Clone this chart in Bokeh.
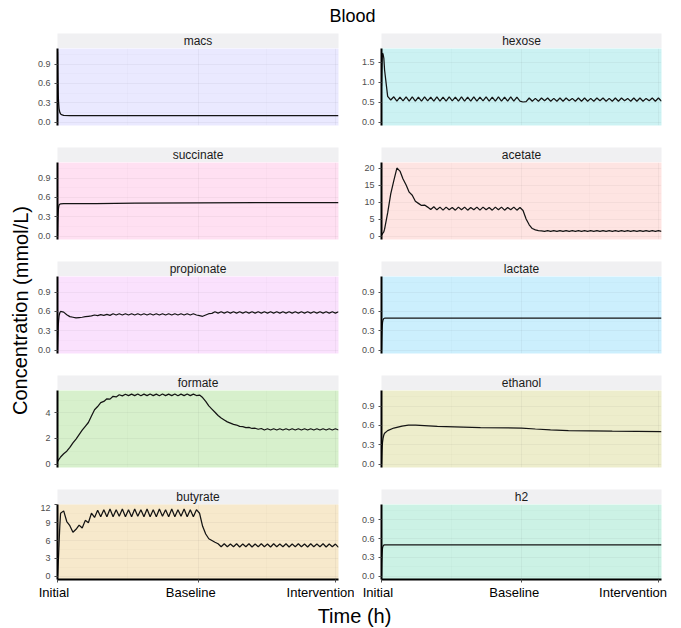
from bokeh.plotting import figure
from bokeh.layouts import row, column
from bokeh.models import Range1d, FixedTicker, Grid, PrintfTickFormatter
from bokeh.embed import file_html
from bokeh.resources import INLINE
from bokeh.core.properties import value

FONT = "Liberation Sans"

# ---------------- data ----------------
# sampling times (h): dense start, then every 12 h
time_grid = [0, 1, 2, 3, 4, 6, 9] + list(range(12, 1093, 12))

macs_t = [0, 1, 2, 3, 4, 6, 9, 12, 18, 24, 48, 546, 560, 1092]
macs = [1.09, 0.80, 0.58, 0.42, 0.32, 0.21, 0.15, 0.125, 0.11, 0.103, 0.10, 0.10, 0.098, 0.098]

succinate_t = [0, 1, 2, 3, 4, 6, 9, 12, 24, 150, 300, 546, 800, 1092]
succinate = [0.0, 0.20, 0.31, 0.39, 0.44, 0.48, 0.495, 0.50, 0.505, 0.505, 0.51, 0.515, 0.52, 0.52]

lactate_t = [0, 1, 2, 3, 4, 6, 9, 12, 24, 1092]
lactate = [0.0, 0.18, 0.30, 0.38, 0.43, 0.47, 0.49, 0.495, 0.495, 0.495]

h2_t = [0, 1, 2, 3, 4, 6, 9, 12, 24, 1092]
h2 = [0.0, 0.20, 0.32, 0.40, 0.45, 0.48, 0.495, 0.50, 0.50, 0.50]

ethanol_t = [0, 1, 2, 3, 4, 6, 9, 12, 24, 48, 80, 105, 133, 218, 386, 546, 600, 659, 729, 900, 1092]
ethanol = [0.0, 0.12, 0.22, 0.29, 0.34, 0.40, 0.45, 0.48, 0.52, 0.56, 0.59, 0.605, 0.605, 0.585,
           0.565, 0.56, 0.545, 0.53, 0.52, 0.51, 0.505]

hexose = [
    0.90, 1.20, 1.45, 1.62, 1.72, 1.70, 1.60,
    1.30, 0.64,
    0.55,
    0.63, 0.52, 0.62, 0.53, 0.63, 0.52, 0.63, 0.52, 0.62, 0.52, 0.63, 0.53, 0.62, 0.52,
    0.63, 0.52, 0.62, 0.52, 0.63, 0.53, 0.62, 0.52, 0.63, 0.52, 0.62, 0.52, 0.63, 0.52,
    0.62, 0.53, 0.63, 0.52, 0.62, 0.52, 0.63, 0.52, 0.62, 0.52, 0.63, 0.52, 0.62, 0.52,
    0.50, 0.51,
    0.60, 0.52, 0.59, 0.52, 0.60, 0.53, 0.60, 0.52, 0.59, 0.52, 0.60, 0.52, 0.60, 0.53,
    0.59, 0.52, 0.60, 0.52, 0.60, 0.52, 0.59, 0.52,
    0.60, 0.53, 0.60, 0.52, 0.59, 0.52, 0.60, 0.52, 0.60, 0.53, 0.59, 0.52, 0.60, 0.52,
    0.60, 0.52, 0.59, 0.53, 0.60, 0.52, 0.60, 0.52,
]

acetate = [
    0.30, 0.35, 0.45, 0.55, 0.70, 0.90, 1.20,
    2.0, 6.8, 12.4, 16.3, 20.0, 19.1, 16.8, 15.0, 12.9, 12.0, 10.2, 9.6, 9.0, 9.1, 8.5,
    7.8, 8.6, 7.7, 8.5, 7.6, 8.5, 7.7, 8.4, 7.6, 8.5,
    7.7, 8.5, 7.6, 8.4, 7.7, 8.5, 7.6, 8.5, 7.7, 8.4,
    7.6, 8.5, 7.7, 8.5, 7.6, 8.4, 7.7, 8.5, 7.6, 8.4,
    7.5, 5.0, 3.3, 2.2, 1.8, 1.6, 1.5,
    1.35, 1.6, 1.35, 1.6, 1.35, 1.6, 1.35, 1.6, 1.35, 1.6,
    1.35, 1.6, 1.35, 1.6, 1.35, 1.6, 1.35, 1.6, 1.35, 1.6,
    1.35, 1.6, 1.35, 1.6, 1.35, 1.6, 1.35, 1.6, 1.35, 1.6,
    1.35, 1.6, 1.35, 1.6, 1.35, 1.6, 1.35, 1.6, 1.35,
]

butyrate = [
    0.0, 0.7, 1.5, 2.4, 3.3, 5.5, 8.5,
    10.6, 11.0, 9.2, 8.5, 7.4, 7.9, 8.6, 8.1, 9.4, 9.0,
    10.6, 9.9, 11.1, 10.0, 11.2, 10.0, 11.3, 10.0, 11.2, 10.1,
    11.3, 10.0, 11.2, 10.0, 11.3, 10.1, 11.2, 10.0, 11.3, 10.0,
    11.2, 10.0, 11.3, 10.1, 11.2, 10.0, 11.3, 10.0, 11.2, 10.1,
    11.3, 10.0, 11.2, 10.0, 11.2,
    10.6, 8.4, 7.1, 6.3, 6.0, 5.7, 5.45,
    4.95, 5.45, 4.95, 5.40, 4.95, 5.45, 4.90, 5.40, 4.95, 5.45,
    4.90, 5.40, 4.95, 5.45, 4.95, 5.40, 4.90, 5.45, 4.95, 5.40,
    4.95, 5.45, 4.90, 5.40, 4.95, 5.45, 4.95, 5.40, 4.90, 5.45,
    4.95, 5.40, 4.95, 5.45, 4.90, 5.40, 4.95, 5.40, 4.85,
]

formate = [
    0.20, 0.22, 0.25, 0.28, 0.32, 0.38, 0.46,
    0.55, 0.80, 1.00, 1.30, 1.65, 1.95, 2.30, 2.65, 2.95, 3.25, 3.75, 4.25, 4.50, 4.80,
    4.90, 5.10, 5.08, 5.30, 5.25, 5.42, 5.33, 5.46,
    5.35, 5.47, 5.35, 5.48, 5.34, 5.47, 5.35, 5.48, 5.35, 5.47,
    5.34, 5.48, 5.35, 5.47, 5.35, 5.48, 5.34, 5.47, 5.35, 5.48,
    5.35, 5.47, 5.36,
    5.40, 5.20, 4.90, 4.55, 4.30, 4.05, 3.80, 3.60, 3.45, 3.30, 3.20, 3.10, 3.05, 2.95,
    2.92, 2.85, 2.86, 2.78, 2.80, 2.72, 2.78,
    2.66, 2.76, 2.66, 2.76, 2.66, 2.76, 2.66, 2.76, 2.66, 2.76, 2.66, 2.76,
    2.66, 2.76, 2.66, 2.76, 2.66, 2.76, 2.66, 2.76, 2.66, 2.76, 2.66, 2.76, 2.66,
]

propionate = [
    0.00, 0.15, 0.28, 0.38, 0.45, 0.53, 0.58,
    0.60, 0.59, 0.55, 0.52, 0.51, 0.50, 0.505, 0.51, 0.52, 0.525,
    0.53, 0.545, 0.535, 0.55, 0.54, 0.555, 0.54,
    0.565, 0.545, 0.565, 0.545, 0.565, 0.545, 0.565, 0.545, 0.565, 0.545, 0.565, 0.545,
    0.565, 0.545, 0.565, 0.545, 0.565, 0.545, 0.565, 0.545, 0.565, 0.545, 0.565, 0.545,
    0.565, 0.545, 0.565, 0.545,
    0.535, 0.525, 0.545, 0.565, 0.57,
    0.595, 0.575, 0.595, 0.575, 0.595, 0.575, 0.595, 0.575, 0.595, 0.575,
    0.595, 0.575, 0.595, 0.575, 0.595, 0.575, 0.595, 0.575, 0.595, 0.575,
    0.595, 0.575, 0.595, 0.575, 0.595, 0.575, 0.595, 0.575, 0.595, 0.575,
    0.595, 0.575, 0.595, 0.575, 0.595, 0.575, 0.595, 0.575, 0.595, 0.575,
    0.595,
]

panels = ["macs", "hexose", "succinate", "acetate", "propionate",
          "lactate", "formate", "ethanol", "butyrate", "h2"]

series_t = {"macs": macs_t, "hexose": time_grid, "succinate": succinate_t, "acetate": time_grid,
            "propionate": time_grid, "lactate": lactate_t, "formate": time_grid,
            "ethanol": ethanol_t, "butyrate": time_grid, "h2": h2_t}
series_v = {"macs": macs, "hexose": hexose, "succinate": succinate, "acetate": acetate,
            "propionate": propionate, "lactate": lactate, "formate": formate,
            "ethanol": ethanol, "butyrate": butyrate, "h2": h2}

for k in panels:
    if len(series_t[k]) != len(series_v[k]):
        raise ValueError(f"{k}: {len(series_t[k])} times vs {len(series_v[k])} values")

panel_colors = {"acetate": "#F8766D", "butyrate": "#D89000", "ethanol": "#A3A500",
                "formate": "#39B600", "h2": "#00BF7D", "hexose": "#00BFC4",
                "lactate": "#00B0F6", "macs": "#9590FF", "propionate": "#E76BF3",
                "succinate": "#FF62BC"}

y_limits = {"macs": (0, 1.09), "hexose": (0, 1.75), "succinate": (0, 1.09), "acetate": (0, 20.6),
            "propionate": (0, 1.09), "lactate": (0, 1.09), "formate": (0, 5.48),
            "ethanol": (0, 1.09), "butyrate": (0, 11.5), "h2": (0, 1.09)}

small_ticks = [0, 0.3, 0.6, 0.9]
y_ticks = {"macs": small_ticks, "hexose": [0, 0.5, 1.0, 1.5], "succinate": small_ticks,
           "acetate": [0, 5, 10, 15, 20], "propionate": small_ticks, "lactate": small_ticks,
           "formate": [0, 2, 4], "ethanol": small_ticks, "butyrate": [0, 3, 6, 9, 12],
           "h2": small_ticks}
y_fmt = {"macs": "%.1f", "hexose": "%.1f", "succinate": "%.1f", "acetate": "%d",
         "propionate": "%.1f", "lactate": "%.1f", "formate": "%d", "ethanol": "%.1f",
         "butyrate": "%d", "h2": "%.1f"}

x_end = 1092
x_ticks = [0, 546, 1080]
x_minor_ticks = [273, 813]
x_tick_labels = ["Initial", "Baseline", "Intervention"]
# trailing no-break spaces per column: labels sit a little left of their ticks
label_shift = {0: [2, 4, 0], 1: [2, 4, 4]}

title_text = "Blood"
ylab_text = "Concentration (mmol/L)"
xlab_text = "Time (h)"

# ---------------- layout ----------------
W_YLAB = 34
GEOM = {0: (23, 16), 1: (27, 20)}   # (border left, border right)
FRAME_W = {0: 281, 1: 280}
FRAME_H = 77
STRIP_H = 15
GAP = 22
BOTTOM_AXIS = 21


def col_width(c):
    bl, br = GEOM[c]
    return bl + FRAME_W[c] + br


def blank(width, height, xr, yr):
    f = figure(width=width, height=height, x_range=Range1d(*xr), y_range=Range1d(*yr),
               x_axis_location=None, y_axis_location=None, toolbar_location=None,
               output_backend="svg", min_border=0, title=None)
    f.grid.visible = False
    f.outline_line_color = None
    f.border_fill_color = "white"
    f.background_fill_color = "white"
    return f


def make_strip(name, c):
    bl, br = GEOM[c]
    s = figure(width=col_width(c), height=STRIP_H, x_range=Range1d(0, 1), y_range=Range1d(0, 1),
               x_axis_location=None, y_axis_location=None, toolbar_location=None,
               output_backend="svg", title=None,
               min_border_left=bl, min_border_right=br, min_border_top=0, min_border_bottom=0)
    s.grid.visible = False
    s.outline_line_color = None
    s.border_fill_color = "white"
    s.background_fill_color = "#f0f0f2"
    s.text(x=[0.5], y=[0.5], text=[name], text_align="center", text_baseline="middle",
           text_font=value(FONT), text_font_size="12px", text_color="#1a1a1a")
    return s


def make_panel(name, c, bottom):
    bl, br = GEOM[c]
    bb = BOTTOM_AXIS if bottom else GAP
    lo, hi = y_limits[name]
    pad = 0.05 * (hi - lo)
    p = figure(width=col_width(c), height=FRAME_H + bb,
               x_range=Range1d(0, x_end), y_range=Range1d(lo - pad, hi + pad),
               x_axis_location="below" if bottom else None, y_axis_location="left",
               min_border_left=bl, min_border_right=br, min_border_top=0, min_border_bottom=bb,
               toolbar_location=None, output_backend="svg", title=None)
    p.background_fill_color = panel_colors[name]
    p.background_fill_alpha = 0.2
    p.border_fill_color = "white"
    p.outline_line_color = None

    xt = FixedTicker(ticks=x_ticks, minor_ticks=x_minor_ticks)
    if len(p.xgrid) == 0:
        p.add_layout(Grid(dimension=0, ticker=xt), "center")
    else:
        p.xgrid.ticker = xt

    yt_major = y_ticks[name]
    step = yt_major[1] - yt_major[0]
    yt_minor = [a + step / 2 for a in yt_major]
    yt = FixedTicker(ticks=yt_major, minor_ticks=yt_minor)
    p.yaxis.ticker = yt
    p.ygrid.ticker = yt
    p.yaxis.formatter = PrintfTickFormatter(format=y_fmt[name])

    for g in list(p.xgrid) + list(p.ygrid):
        g.grid_line_color = "black"
        g.grid_line_alpha = 0.04
        g.grid_line_width = 1
        g.minor_grid_line_color = "black"
        g.minor_grid_line_alpha = 0.028
        g.minor_grid_line_width = 0.7

    ya = p.yaxis
    ya.axis_line_color = "black"
    ya.axis_line_width = 2
    ya.major_tick_line_color = "#4d4d4d"
    ya.major_tick_out = 3
    ya.major_tick_in = 0
    ya.minor_tick_line_color = None
    ya.major_label_text_font = FONT
    ya.major_label_text_font_size = "9px"
    ya.major_label_text_color = "#4d4d4d"
    ya.major_label_standoff = 3

    if bottom:
        xa = p.xaxis
        xa.ticker = xt
        xa.major_label_overrides = {t: lab + "\u00a0" * n
                                    for t, lab, n in zip(x_ticks, x_tick_labels, label_shift[c])}
        xa.axis_line_color = "black"
        xa.axis_line_width = 2
        xa.major_tick_line_color = "#4d4d4d"
        xa.major_tick_out = 3
        xa.major_tick_in = 0
        xa.minor_tick_line_color = None
        xa.major_label_text_font = FONT
        xa.major_label_text_font_size = "13px"
        xa.major_label_text_color = "black"
        xa.major_label_standoff = 1

    p.line(series_t[name], series_v[name], line_color="#141414", line_width=1.25)
    return p


cols = [[], []]
for i, name in enumerate(panels):
    r, c = divmod(i, 2)
    cols[c].append(make_strip(name, c))
    cols[c].append(make_panel(name, c, r == 4))

TITLE_H = 33
grid_h = 4 * (STRIP_H + FRAME_H + GAP) + (STRIP_H + FRAME_H + BOTTOM_AXIS)
total_w = W_YLAB + col_width(0) + col_width(1)

title_fig = blank(total_w, TITLE_H, (0, total_w), (0, TITLE_H))
title_fig.text(x=[352], y=[TITLE_H - 15], text=[title_text], text_align="center",
               text_baseline="middle", text_font=value(FONT), text_font_size="18px",
               text_color="black")

ylab_fig = blank(W_YLAB, grid_h, (0, W_YLAB), (0, grid_h))
ylab_fig.text(x=[20], y=[grid_h + TITLE_H - 310], text=[ylab_text], angle=1.5707963,
              text_align="center", text_baseline="middle",
              text_font=value(FONT), text_font_size="20px", text_color="black")

xlab_h = 628 - TITLE_H - grid_h
xlab_fig = blank(total_w, xlab_h, (0, total_w), (0, xlab_h))
xlab_fig.text(x=[354], y=[xlab_h / 2], text=[xlab_text], text_align="center",
              text_baseline="middle", text_font=value(FONT), text_font_size="20px",
              text_color="black")

layout = column(title_fig,
                row(ylab_fig, column(*cols[0]), column(*cols[1])),
                xlab_fig)

open("out.html", "w").write(file_html(layout, INLINE))
